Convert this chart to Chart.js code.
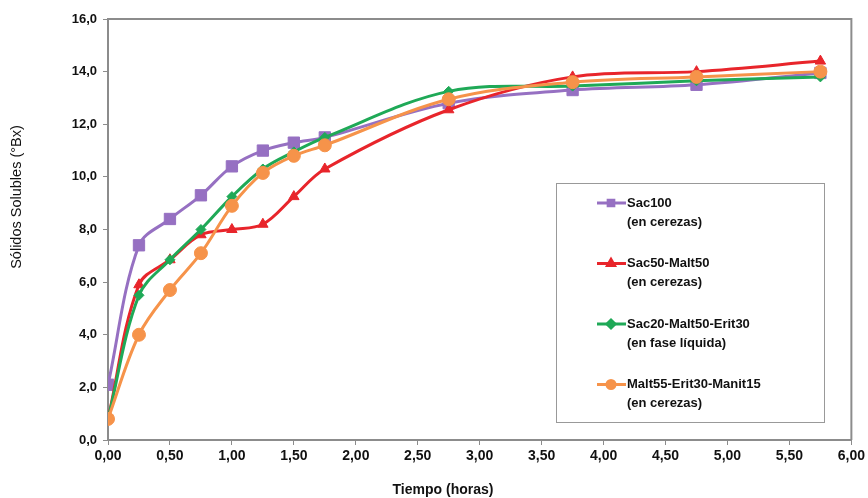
<!DOCTYPE html>
<html>
<head>
<meta charset="utf-8">
<script src="https://cdn.jsdelivr.net/npm/chart.js@4.4.1/dist/chart.umd.min.js"></script>
<style>
  html, body { margin: 0; padding: 0; background: #fff; }
  #wrap { width: 868px; height: 498px; position: relative; }
</style>
</head>
<body>
<div id="wrap"><canvas id="chart" width="868" height="498"></canvas></div>
<script>
// Tiempos de muestreo (horas)
var tiempos = [0, 0.25, 0.5, 0.75, 1.0, 1.25, 1.5, 1.75, 2.75, 3.75, 4.75, 5.75];

// Sólidos solubles (°Bx) por tratamiento
var sac100 = [2.1, 7.4, 8.4, 9.3, 10.4, 11.0, 11.3, 11.5, 12.8, 13.3, 13.5, 13.95];
var sac50Malt50 = [0.8, 5.9, 6.85, 7.8, 8.0, 8.2, 9.25, 10.3, 12.55, 13.8, 14.0, 14.4];
var sac20Malt50Erit30 = [0.8, 5.5, 6.85, 8.0, 9.25, 10.3, 10.95, 11.5, 13.25, 13.45, 13.65, 13.8];
var malt55Erit30Manit15 = [0.8, 4.0, 5.7, 7.1, 8.9, 10.15, 10.8, 11.2, 12.95, 13.6, 13.8, 14.0];

var etiquetas = [
    ['Sac100', '(en cerezas)'],
    ['Sac50-Malt50', '(en cerezas)'],
    ['Sac20-Malt50-Erit30', '(en fase líquida)'],
    ['Malt55-Erit30-Manit15', '(en cerezas)']
];
var colores = ['#9670c2', '#e8252b', '#1fa957', '#f6934a'];
var marcadores = ['rect', 'triangle', 'rectRot', 'circle'];
var radios = [8, 6, 5, 6.5];

var tituloX = 'Tiempo (horas)';
var tituloY = 'Sólidos Solubles (°Bx)';

var series = [sac100, sac50Malt50, sac20Malt50Erit30, malt55Erit30Manit15];

function puntos(valores) {
    return valores.map(function (v, i) { return { x: tiempos[i], y: v }; });
}

var datasets = series.map(function (s, i) {
    return {
        label: etiquetas[i][0],
        data: puntos(s),
        borderColor: colores[i],
        backgroundColor: colores[i],
        pointBackgroundColor: colores[i],
        pointBorderColor: colores[i],
        pointStyle: marcadores[i],
        pointRadius: radios[i],
        pointBorderWidth: 1,
        borderWidth: 3,
        tension: 0.35,
        order: 3 - i
    };
});

var gris = '#8c8c8c';

// Marco superior/derecho, títulos de ejes y leyenda dibujados a mano
var decoracion = {
    id: 'decoracion',
    afterDraw: function (chart) {
        var ctx = chart.ctx;
        var a = chart.chartArea;
        ctx.save();
        ctx.strokeStyle = gris;
        ctx.lineWidth = 2;
        ctx.beginPath();
        ctx.moveTo(a.left, a.top);
        ctx.lineTo(a.right, a.top);
        ctx.lineTo(a.right, a.bottom);
        ctx.stroke();

        // títulos
        ctx.fillStyle = '#111';
        ctx.textAlign = 'center';
        ctx.textBaseline = 'middle';
        ctx.font = 'bold 14px "Liberation Sans Narrow", "Liberation Sans", Arial, sans-serif';
        ctx.fillText(tituloX, 443, 490);
        ctx.save();
        ctx.translate(17, 197);
        ctx.rotate(-Math.PI / 2);
        ctx.font = '14.5px "Liberation Sans", Arial, sans-serif';
        ctx.fillText(tituloY, 0, 0);
        ctx.restore();

        // leyenda
        ctx.strokeStyle = '#999';
        ctx.lineWidth = 1;
        ctx.strokeRect(556.5, 183.5, 268, 239);
        ctx.textAlign = 'left';
        ctx.font = 'bold 13px "Liberation Sans", Arial, sans-serif';
        etiquetas.forEach(function (lab, i) {
            var y = 203 + i * 60.5;
            ctx.strokeStyle = colores[i];
            ctx.lineWidth = 3;
            ctx.beginPath();
            ctx.moveTo(597, y);
            ctx.lineTo(626, y);
            ctx.stroke();
            ctx.fillStyle = colores[i];
            Chart.helpers.drawPoint(ctx, { pointStyle: marcadores[i], radius: 4, borderWidth: 1 }, 611, y);
            ctx.fill();
            ctx.fillStyle = '#111';
            ctx.fillText(lab[0], 627, y);
            ctx.fillText(lab[1], 627, y + 19);
        });
        ctx.restore();
    }
};

new Chart(document.getElementById('chart'), {
    type: 'line',
    data: { datasets: datasets },
    options: {
        responsive: false,
        animation: false,
        layout: { padding: { left: 0, top: 19, right: 16, bottom: 0 } },
        plugins: {
            legend: { display: false },
            tooltip: { enabled: false }
        },
        scales: {
            x: {
                type: 'linear',
                min: 0,
                max: 6,
                afterFit: function (s) { s.height = 58; },
                ticks: {
                    stepSize: 0.5,
                    padding: 3,
                    color: '#111',
                    font: { family: '"Liberation Sans Narrow", "Liberation Sans", Arial, sans-serif', size: 14, weight: 'bold' },
                    maxRotation: 0,
                    callback: function (v) { return v.toFixed(2).replace('.', ','); }
                },
                grid: { drawOnChartArea: false, drawTicks: true, tickLength: 5, color: gris, lineWidth: 1 },
                border: { color: gris, width: 2 }
            },
            y: {
                min: 0,
                max: 16,
                afterFit: function (s) { s.width = 108; },
                ticks: {
                    stepSize: 2,
                    padding: 6,
                    color: '#111',
                    font: { family: '"Liberation Sans", Arial, sans-serif', size: 13, weight: 'bold' },
                    callback: function (v) { return v.toFixed(1).replace('.', ','); }
                },
                grid: { drawOnChartArea: false, drawTicks: true, tickLength: 5, color: gris, lineWidth: 1 },
                border: { color: gris, width: 2 }
            }
        }
    },
    plugins: [decoracion]
});
</script>
</body>
</html>
